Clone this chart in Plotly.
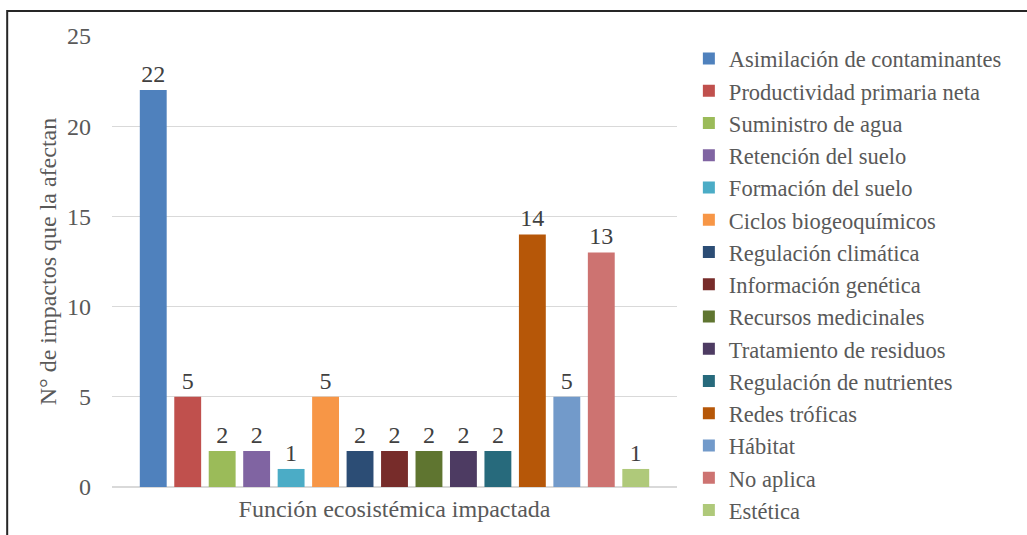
import plotly.graph_objects as go

# Ecosystem functions and number of impacts affecting each
funciones = [
    "Asimilación de contaminantes",
    "Productividad primaria neta",
    "Suministro de agua",
    "Retención del suelo",
    "Formación del suelo",
    "Ciclos biogeoquímicos",
    "Regulación climática",
    "Información genética",
    "Recursos medicinales",
    "Tratamiento de residuos",
    "Regulación de nutrientes",
    "Redes tróficas",
    "Hábitat",
    "No aplica",
    "Estética",
]
impactos = [22, 5, 2, 2, 1, 5, 2, 2, 2, 2, 2, 14, 5, 13, 1]
colores = [
    "#4F81BD", "#C0504D", "#9BBB59", "#8064A2", "#4BACC6",
    "#F79646", "#2C4D75", "#772C2A", "#5F7530", "#4D3B62",
    "#276A7C", "#B65708", "#729ACA", "#CD7371", "#AFC97A",
]
categoria = "Función ecosistémica impactada"
y_ticks = [0, 5, 10, 15, 20, 25]

FONT = "Liberation Serif, DejaVu Serif, serif"
FS = 24
FS_LEG = 22.5

fig = go.Figure()
for nombre, valor, color in zip(funciones, impactos, colores):
    fig.add_trace(go.Bar(
        x=[categoria], y=[valor], name=nombre,
        marker=dict(color=color, line=dict(width=0)),
        text=[valor], textposition="outside",
        textfont=dict(family=FONT, size=FS, color="#404040"),
        cliponaxis=False,
    ))

fig.update_layout(
    width=1027, height=535,
    margin=dict(l=112, r=350, t=36, b=48, autoexpand=False),
    paper_bgcolor="white", plot_bgcolor="white",
    barmode="group", bargap=0.085, bargroupgap=0.22,
    font=dict(family=FONT, size=FS, color="#595959"),
    showlegend=True,
    legend=dict(
        x=1.021, xanchor="left", y=0.997, yanchor="top",
        font=dict(family=FONT, size=FS_LEG, color="#595959"),
        bgcolor="rgba(0,0,0,0)", itemwidth=30, maxheight=530,
    ),
    yaxis=dict(
        range=[0, 25], tickvals=y_ticks,
        showgrid=True, gridcolor="#D9D9D9", gridwidth=1,
        zeroline=True, zerolinecolor="#D9D9D9",
        showline=False, ticks="",
        ticklabelstandoff=20,
        tickfont=dict(family=FONT, size=FS, color="#595959"),
        title=dict(text="N° de impactos que la afectan", standoff=3,
                   font=dict(family=FONT, size=FS, color="#595959")),
    ),
    xaxis=dict(
        showline=True, linecolor="#D9D9D9", linewidth=1,
        ticks="", showgrid=False,
        tickfont=dict(family=FONT, size=FS, color="#595959"),
    ),
    shapes=[dict(
        type="rect", xref="paper", yref="paper",
        x0=-0.1855, x1=1.64, y0=-0.2, y1=1.0554,
        line=dict(color="#262626", width=2), layer="above",
    )],
)

fig.write_html("out.html")
